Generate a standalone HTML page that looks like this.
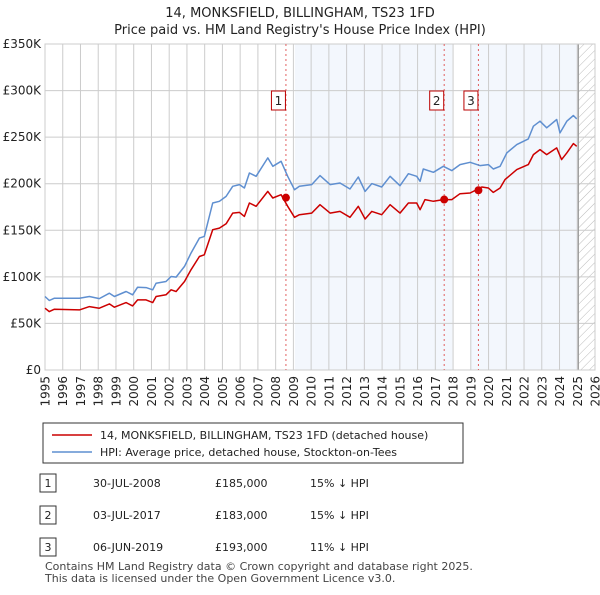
<!DOCTYPE html>
<html><head><meta charset="utf-8"><style>
body{margin:0;background:#fff;font-family:"Liberation Sans","DejaVu Sans",sans-serif;}
svg text{font-family:"DejaVu Sans","Liberation Sans",sans-serif;}
</style></head><body>
<svg id="c" width="600" height="590" viewBox="0 0 600 590" xmlns="http://www.w3.org/2000/svg">
<defs><pattern id="hatch" width="6" height="6" patternUnits="userSpaceOnUse" patternTransform="rotate(45)"><line x1="0" y1="0" x2="0" y2="6" stroke="#bbb" stroke-width="1"/></pattern></defs>
<text x="300" y="17" text-anchor="middle" font-size="13" fill="#222">14, MONKSFIELD, BILLINGHAM, TS23 1FD</text>
<text x="300" y="34" text-anchor="middle" font-size="13" fill="#222">Price paid vs. HM Land Registry's House Price Index (HPI)</text>
<g id="plot"></g>
<g>
<rect x="43" y="423" width="420" height="40" fill="#fff" stroke="#333"/>
<line x1="52" y1="435" x2="92" y2="435" stroke="#cc0000" stroke-width="1.5"/>
<text x="100" y="439" font-size="11" fill="#222">14, MONKSFIELD, BILLINGHAM, TS23 1FD (detached house)</text>
<line x1="52" y1="452" x2="92" y2="452" stroke="#5f8fd0" stroke-width="1.5"/>
<text x="100" y="456" font-size="11" fill="#222">HPI: Average price, detached house, Stockton-on-Tees</text>
</g>
<g font-size="11" fill="#222">
<rect x="40" y="474" width="16" height="18" fill="#fff" stroke="#333"/><text x="48" y="487" text-anchor="middle">1</text>
<text x="93" y="487">30-JUL-2008</text><text x="215" y="487">£185,000</text><text x="310" y="487">15% ↓ HPI</text>
<rect x="40" y="506" width="16" height="18" fill="#fff" stroke="#333"/><text x="48" y="519" text-anchor="middle">2</text>
<text x="93" y="519">03-JUL-2017</text><text x="215" y="519">£183,000</text><text x="310" y="519">15% ↓ HPI</text>
<rect x="40" y="538" width="16" height="18" fill="#fff" stroke="#333"/><text x="48" y="551" text-anchor="middle">3</text>
<text x="93" y="551">06-JUN-2019</text><text x="215" y="551">£193,000</text><text x="310" y="551">11% ↓ HPI</text>
</g>
<text x="45" y="570" font-size="11" fill="#444">Contains HM Land Registry data © Crown copyright and database right 2025.</text>
<text x="45" y="582" font-size="11" fill="#444">This data is licensed under the Open Government Licence v3.0.</text>
</svg>
<script>
const hpiYears=[1995.0,1995.24,1995.53,1996.18,1996.94,1997.5,1998.06,1998.63,1998.91,1999.57,1999.94,2000.22,2000.70,2001.07,2001.26,2001.82,2002.11,2002.39,2002.86,2003.23,2003.70,2003.98,2004.45,2004.83,2005.21,2005.58,2005.96,2006.24,2006.52,2006.90,2007.56,2007.84,2008.31,2008.68,2009.06,2009.34,
2010.03,2010.50,2011.07,2011.63,2012.19,2012.66,2013.04,2013.42,2013.98,2014.45,2015.01,2015.48,2015.95,2016.14,2016.32,2016.89,2017.45,2017.93,2018.39,2018.96,2019.52,2019.99,2020.27,2020.65,2021.03,2021.59,2022.24,2022.53,2022.90,2023.28,2023.84,2024.03,2024.41,2024.78,2024.97];
const hpiValues=[78.9,74.6,77.1,77.1,77.1,78.9,76.7,82.5,78.9,84.3,80.7,88.9,88.5,86.1,93.2,95.0,100.4,99.7,111.2,125.5,141.6,143.4,179.3,181.1,186.4,197.2,199,195.4,211.5,208,227.7,218.7,224.1,208,193.6,197.2,
199,208.7,199,200.8,194.3,207.2,191.8,200.1,196.5,208,197.9,210.8,208,202.6,215.8,212.3,218.7,214.1,220.5,223,219.4,220.5,215.8,218.7,233.1,242,248.1,261.7,267.1,260,268.9,254.6,267.1,273.2,269.6];
const priceYears=[1995.0,1995.24,1995.53,1996.94,1997.5,1998.06,1998.63,1998.91,1999.57,1999.94,2000.22,2000.70,2001.07,2001.26,2001.82,2002.11,2002.39,2002.86,2003.23,2003.70,2003.98,2004.45,2004.83,2005.21,2005.58,2005.96,2006.24,2006.52,2006.90,2007.56,2007.84,2008.31,2008.68,2009.06,2009.34,
2010.03,2010.50,2011.07,2011.63,2012.19,2012.66,2013.04,2013.42,2013.98,2014.45,2015.01,2015.48,2015.95,2016.14,2016.42,2016.89,2017.45,2017.93,2018.39,2018.96,2019.33,2019.62,2019.99,2020.27,2020.65,2020.93,2021.59,2022.24,2022.53,2022.90,2023.28,2023.84,2024.12,2024.41,2024.78,2024.97];
const priceValues=[66.3,62.7,65.3,64.5,68.1,66.3,71,67.4,72.4,68.8,75.3,75.3,72.4,78.9,80.7,86.1,84.3,95,107.6,121.9,123.7,150.6,152.4,157,168.5,169.2,164.9,179.3,175.7,191.8,184.7,188.2,175.7,163.9,166.7,
168.5,177.5,168.5,170.3,163.9,175.7,162.1,170.3,166.7,177.5,168.5,179.3,179.3,172.1,182.9,181.1,182.9,182.9,189.3,190,193.6,196.5,195.4,190.7,195.4,204.4,215.1,220.5,231.3,236.6,231.3,238.4,225.9,233.1,243.1,240.2];
const saleLabels=["1","2","3"];
const saleYears=[2008.58,2017.5,2019.43];
const saleValues=[185,183,193];
const yTicks=[0,50,100,150,200,250,300,350];
const yTickLabels=["£0","£50K","£100K","£150K","£200K","£250K","£300K","£350K"];
const xTicks=[1995,1996,1997,1998,1999,2000,2001,2002,2003,2004,2005,2006,2007,2008,2009,2010,2011,2012,2013,2014,2015,2016,2017,2018,2019,2020,2021,2022,2023,2024,2025,2026];

const L=45,R=595,T=44,B=370,X0=1995,X1=2026,YMAX=350;
const X=y=>L+(y-X0)/(X1-X0)*(R-L);
const Y=v=>B-v/YMAX*(B-T);
const NS="http://www.w3.org/2000/svg";
const g=document.getElementById('plot');
function mk(tag,a,parent){const e=document.createElementNS(NS,tag);for(const k in a)e.setAttribute(k,a[k]);(parent||g).appendChild(e);return e;}

let e;
e=mk('rect',{x:X(2009.08),y:T,width:X(2017.96)-X(2009.08),height:B-T,fill:'#eef3fc',opacity:0.7});


e=mk('rect',{x:X(2018.97),y:T,width:X(2025.06)-X(2018.97),height:B-T,fill:'#eef3fc',opacity:0.7});


e=mk('rect',{x:X(2025.06),y:T,width:R-X(2025.06),height:B-T,fill:'url(#hatch)'});



yTicks.forEach((v,i)=>{
  e=mk('line',{x1:L,x2:R,y1:Y(v),y2:Y(v),stroke:'#ccc','stroke-width':1});
  
  
  e=mk('text',{x:L-4,y:Y(v)+4,'text-anchor':'end','font-size':12,fill:'#222'});
  e.textContent=yTickLabels[i];
  
  
});
xTicks.forEach(t=>{
  e=mk('line',{x1:X(t),x2:X(t),y1:T,y2:B,stroke:'#ccc','stroke-width':1});
  
  
  const tx=X(t)+4.5, ty=376;
  e=mk('text',{x:tx,y:ty,'text-anchor':'end','font-size':12,fill:'#222',transform:'rotate(-90 '+tx+' '+ty+')'});
  e.textContent=String(t);
  
  
});
e=mk('line',{x1:X(2025.06),x2:X(2025.06),y1:T,y2:B,stroke:'#999','stroke-width':1.2});


e=mk('rect',{x:L,y:T,width:R-L,height:B-T,fill:'none',stroke:'#ccc'});



saleYears.forEach((yr,i)=>{
  e=mk('line',{x1:X(yr),x2:X(yr),y1:T,y2:B,stroke:'#e06060','stroke-width':1,'stroke-dasharray':'2,3'});
  
  
});

function path(xs,vs,col,name){
  const d=xs.map((x,i)=>(i?'L':'M')+X(x).toFixed(1)+','+Y(vs[i]).toFixed(1)).join('');
  const p=mk('path',{d:d,fill:'none',stroke:col,'stroke-width':1.5,'stroke-linejoin':'round'});
  
  
}
path(hpiYears,hpiValues,'#5f8fd0','hpi-line');
path(priceYears,priceValues,'#cc0000','price-line');

saleYears.forEach((yr,i)=>{
  e=mk('circle',{cx:X(yr),cy:Y(saleValues[i]),r:4,fill:'#cc0000'});
  
  
  const bx=X(yr)-14;
  e=mk('rect',{x:bx-0.5,y:91,width:14,height:19,fill:'#fff',stroke:'#b00'});
  
  
  e=mk('text',{x:bx+6.5,y:105,'text-anchor':'middle','font-size':12,fill:'#222'});
  e.textContent=saleLabels[i];
  
  
});
</script>
</body></html>
